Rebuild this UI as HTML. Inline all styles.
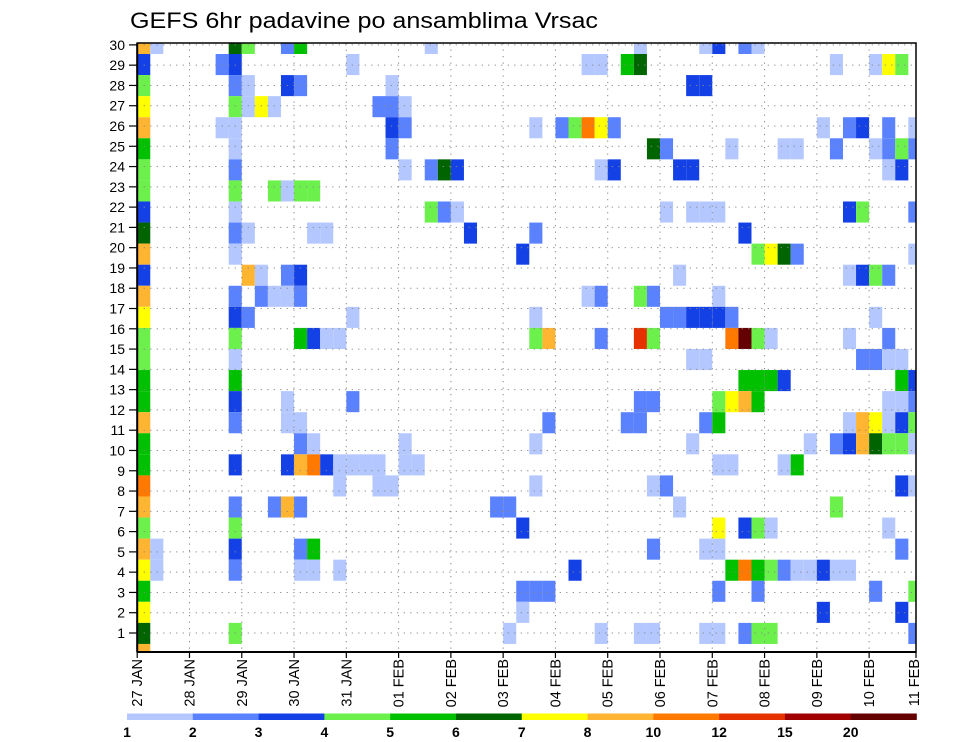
<!DOCTYPE html>
<html><head><meta charset="utf-8"><style>
html,body{margin:0;padding:0;background:#fff}
svg{display:block;font-family:"Liberation Sans",sans-serif}
</style></head><body>
<svg id="chart" width="960" height="742" viewBox="0 0 960 742" xmlns="http://www.w3.org/2000/svg">
<text x="130" y="28" font-size="22" textLength="468" lengthAdjust="spacingAndGlyphs" fill="#000">GEFS 6hr padavine po ansamblima Vrsac</text>
<defs><clipPath id="pc"><rect x="137.2" y="43" width="778.8" height="609"/></clipPath></defs>
<g id="cells" clip-path="url(#pc)"></g>
<g id="grid"></g>
<rect x="137.2" y="43" width="778.8" height="609" fill="none" stroke="#000" stroke-width="1.5"/>
<line x1="137.2" y1="43" x2="137.2" y2="652" stroke="#000" stroke-width="2"/>
<line x1="137.2" y1="652" x2="916" y2="652" stroke="#000" stroke-width="2"/>
<g id="yaxis"></g>
<g id="xaxis"></g>
<g id="legend"></g>
</svg>
<script>
const levelLabels = ["1","2","3","4","5","6","7","8","10","12","15","20"];
const levelColors = ["#b4c8ff","#5a82ff","#1441e6","#6cf04c","#00c000","#006400","#ffff00","#ffb432","#ff7800","#e63200","#a00000","#640000"];
const levelCodes = "abcdefghijkl";
const dateLabels = ["27 JAN","28 JAN","29 JAN","30 JAN","31 JAN","01 FEB","02 FEB","03 FEB","04 FEB","05 FEB","06 FEB","07 FEB","08 FEB","09 FEB","10 FEB","11 FEB"];
const memberLabels = [1,2,3,4,5,6,7,8,9,10,11,12,13,14,15,16,17,18,19,20,21,22,23,24,25,26,27,28,29,30];
// rows top to bottom; each entry "timeStep+levelCode"
const rowCells = [
"0h 1a 7f 8d 11b 12e 22a 38a 43a 44c 46b 47a",
"0c 6b 7c 16a 34a 35a 37e 38f 53a 56a 57g 58d",
"0d 7b 8a 11c 12b 19a 42c 43c",
"0g 7d 8a 9g 10a 18b 19b 20a",
"0h 6a 7a 19c 20b 30a 32b 33d 34i 35g 36b 52a 54b 55c 57b 59a",
"0e 7a 19b 39f 40b 45a 49a 50a 53b 56a 57b 58d 59b",
"0d 7b 20a 22b 23f 24c 35a 36c 41c 42c 57a 58c",
"0d 7d 10d 11a 12d 13d",
"0c 7a 22d 23b 24a 40a 42a 43a 44a 54c 55d 59b",
"0f 7b 8a 13a 14a 25c 30b 46c",
"0h 7a 29c 47d 48g 49f 50b 59a",
"0c 8h 9a 11b 12c 41a 54a 55c 56d 57b",
"0h 7b 9b 10a 11a 12b 34a 35b 38d 39b 44a",
"0g 7c 8b 16a 30a 40b 41b 42c 43c 44c 45b 56a",
"0d 7d 12e 13c 14a 15a 30d 31h 35b 38j 39d 45i 46l 47d 48a 54a 57b",
"0d 7a 42a 43a 55b 56b 57a 58a",
"0e 7e 46e 47e 48e 49c 58e 59c",
"0e 7c 11a 16b 38b 39b 44d 45g 46h 47e 57a 58a 59b",
"0h 7b 11a 12a 31b 37b 38b 43b 44e 54a 55h 56g 57a 58c 59d",
"0e 12b 13a 20a 30a 42a 51a 53b 54c 55h 56f 57d 58d 59a",
"0e 7c 11c 12h 13i 14c 15a 16a 17a 18a 20a 21a 44a 45a 49a 50e",
"0i 15a 18a 19a 30a 39a 40b 58c 59a",
"0h 7b 10b 11h 12b 27b 28b 41a 53d",
"0d 7d 29c 44g 46c 47d 48a 57a",
"0h 1a 7c 12b 13e 39b 43a 44a 58b",
"0g 1a 7b 12a 13a 15a 33c 45e 46i 47e 48d 49b 50a 51a 52c 53a 54a",
"0e 29b 30b 31b 44b 47b 56b 59d",
"0g 29a 52c 58c",
"0f 7d 28a 35a 38a 39a 43a 44a 46b 47d 48d 59b",
"0h"
];
const NS="http://www.w3.org/2000/svg";
const plotL=137.2, plotR=916, plotT=43, plotB=652;
const stepW=13.07, dayW=52.28, rowH=21.07, cellTop0=54-rowH;
function xStep(t){return plotL+t*stepW;}
function xDay(d){return plotL+d*dayW;}
function yRow(k){return cellTop0+k*rowH;}
function yLabel(r){return 633-(r-1)*20.28;}
function mk(tag,attrs,parent){const e=document.createElementNS(NS,tag);for(const k in attrs)e.setAttribute(k,attrs[k]);parent.appendChild(e);return e;}
const cells=document.getElementById('cells');
rowCells.forEach((row,k)=>{
  row.split(' ').forEach(tok=>{
    const t=parseInt(tok,10), code=tok.replace(/[0-9]/g,'');
    const li=levelCodes.indexOf(code);
    const r=mk('rect',{x:xStep(t).toFixed(2),y:yRow(k).toFixed(2),width:stepW.toFixed(2),height:rowH.toFixed(2),fill:levelColors[li]},cells);
    
    
  });
});
const grid=document.getElementById('grid');
memberLabels.forEach(r=>{
  const l=mk('line',{x1:plotL,x2:plotR,y1:yLabel(r),y2:yLabel(r),stroke:'#888','stroke-width':1,'stroke-dasharray':'1.2 5.3'},grid);
  
  
});
dateLabels.forEach((d,i)=>{
  if(i===0||xDay(i)>plotR)return;
  const l=mk('line',{x1:xDay(i),x2:xDay(i),y1:plotT,y2:plotB,stroke:'#888','stroke-width':1,'stroke-dasharray':'1.2 5.3'},grid);
  
  
});
const ya=document.getElementById('yaxis');
memberLabels.forEach(r=>{
  const y=yLabel(r);
  const tk=mk('line',{x1:129,x2:137.2,y1:y,y2:y,stroke:'#000','stroke-width':1.2},ya);
  
  
  const tx=mk('text',{x:125,y:y+5,'font-size':14,'text-anchor':'end',fill:'#000'},ya);
  tx.textContent=r;
  
  
});
const xa=document.getElementById('xaxis');
dateLabels.forEach((d,i)=>{
  const x=Math.min(xDay(i),plotR);
  const tk=mk('line',{x1:x,x2:x,y1:plotB,y2:plotB+6,stroke:'#000','stroke-width':1.2},xa);
  
  
  const lx=(i===15?914:x)+5;
  const tx=mk('text',{x:lx,y:659,'font-size':14.5,'text-anchor':'end',fill:'#000',transform:'rotate(-90 '+lx+' 659)'},xa);
  tx.textContent=d;
  
  
});
const lg=document.getElementById('legend');
const lgL=127, lgW=(916.5-127)/levelColors.length;
levelColors.forEach((c,i)=>{
  const r=mk('rect',{x:lgL+i*lgW,y:713.5,width:lgW+0.3,height:6.5,fill:c},lg);
  
  
  const t=mk('text',{x:lgL+i*lgW,y:737,'font-size':14,'font-weight':'bold','text-anchor':'middle',fill:'#000'},lg);
  t.textContent=levelLabels[i];
  
  
});
</script>
</body></html>
